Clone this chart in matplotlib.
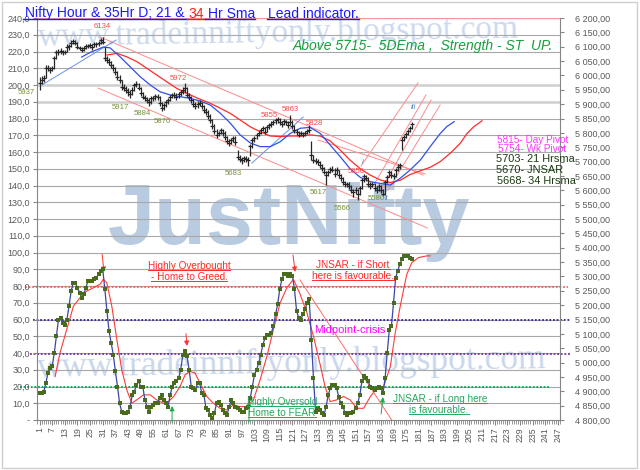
import matplotlib
matplotlib.use('Agg')
import matplotlib.pyplot as plt
from matplotlib.ticker import FuncFormatter, MultipleLocator
from matplotlib.lines import Line2D
from matplotlib.patches import Rectangle

plt.rcParams['font.family'] = ['Liberation Sans', 'DejaVu Sans']

# ---------------- data ----------------
hi = [5995,5998,6000,6035,6036,6030,6034,6068,6090,6092,6094,6090,6089,6108,6110,6122,6128,6124,6115,6104,
      6100,6103,6110,6109,6114,6110,6116,6117,6120,6130,6134,6098,6068,6060,6050,6040,6028,6014,6000,5985,
      5970,5962,5955,5950,5958,5975,5980,5972,5958,5942,5932,5925,5920,5928,5930,5936,5934,5928,5906,5905,
      5914,5920,5932,5940,5942,5938,5944,5950,5958,5972,5958,5940,5930,5918,5906,5910,5914,5908,5898,5888,
      5878,5864,5850,5830,5812,5808,5818,5815,5805,5790,5780,5782,5790,5788,5740,5722,5716,5720,5718,5715,
      5762,5782,5790,5800,5808,5818,5825,5820,5828,5835,5840,5846,5852,5855,5852,5842,5848,5846,5842,5863,
      5845,5828,5815,5808,5808,5804,5808,5814,5828,5770,5722,5712,5710,5702,5692,5680,5668,5672,5682,5684,
      5676,5680,5672,5656,5646,5634,5630,5628,5618,5606,5610,5604,5616,5642,5656,5654,5645,5628,5630,5624,
      5614,5622,5618,5604,5636,5654,5672,5668,5660,5678,5690,5695,5785,5794,5804,5814,5824,5838]
lo = [5950,5970,5978,5992,6015,6010,6015,6024,6058,6072,6074,6072,6073,6080,6090,6100,6108,6105,6092,6088,
      6082,6086,6092,6094,6097,6090,6098,6100,6104,6110,6108,6050,6044,6038,6027,6015,6002,5985,5973,5950,
      5945,5938,5930,5920,5932,5945,5958,5948,5930,5917,5910,5903,5895,5902,5912,5916,5915,5895,5876,5880,
      5890,5900,5910,5920,5922,5915,5920,5928,5935,5940,5925,5915,5905,5890,5884,5888,5892,5884,5870,5862,
      5848,5835,5814,5796,5783,5788,5796,5790,5776,5762,5755,5760,5768,5758,5705,5698,5690,5700,5698,5683,
      5720,5748,5768,5778,5788,5796,5805,5795,5802,5815,5820,5826,5832,5836,5828,5820,5828,5826,5818,5826,
      5815,5800,5792,5785,5788,5784,5790,5795,5800,5705,5695,5692,5688,5678,5668,5655,5617,5650,5660,5662,
      5648,5655,5643,5632,5618,5612,5610,5604,5590,5575,5586,5566,5585,5605,5630,5632,5612,5604,5610,5598,
      5590,5598,5590,5580,5585,5625,5645,5642,5640,5648,5668,5675,5740,5770,5782,5792,5802,5815]
cl = [5975,5985,5990,6026,6025,6019,6026,6061,6082,6082,6085,6082,6082,6099,6102,6113,6120,6113,6099,6096,
      6089,6096,6102,6102,6106,6099,6109,6109,6113,6123,6116,6061,6054,6047,6036,6026,6012,5995,5984,5960,
      5956,5949,5942,5935,5949,5967,5970,5956,5939,5925,5921,5914,5907,5921,5921,5928,5925,5904,5887,5897,
      5907,5914,5925,5932,5932,5925,5935,5942,5949,5956,5932,5925,5914,5900,5894,5900,5904,5894,5880,5873,
      5859,5845,5824,5806,5793,5800,5810,5800,5786,5772,5765,5775,5782,5768,5716,5709,5705,5712,5709,5705,
      5754,5775,5782,5793,5800,5810,5817,5803,5820,5827,5831,5838,5845,5848,5838,5831,5841,5838,5827,5838,
      5824,5810,5803,5793,5800,5793,5800,5806,5810,5723,5705,5702,5698,5688,5678,5664,5653,5664,5674,5671,
      5657,5671,5653,5643,5629,5622,5622,5615,5601,5594,5601,5587,5608,5636,5650,5643,5622,5615,5622,5608,
      5601,5615,5601,5587,5629,5647,5664,5653,5650,5671,5681,5688,5775,5786,5796,5806,5817,5831]
bars = list(range(1, len(cl) + 1))

osc = [16,16,17,22,28,31,32,40,50,60, 61,58,57,60,68,77,82,82,79,76,
       73,75,79,83,83,83,84,85,87,89, 90,78,65,53,46,39,29,20,10,5,
       4,4,5,8,15,17,21,23,20,20, 12,8,5,8,9,10,10,13,15,12,
       10,8,15,20,22,23,25,30,39,41, 38,30,20,19,18,22,22,16,15,7,
       6,3,1,4,10,11,9,6,4,3, 8,12,10,8,7,6,5,5,7,8,
       13,20,27,30,34,39,45,49,51,51, 52,56,63,69,78,84,87,87,86,87,
       86,78,65,61,60,63,66,70,72,48, 25,5,7,6,4,3,8,15,19,21,
       21,19,14,10,8,4,3,4,4,5, 7,10,15,23,26,25,23,20,19,18,
       19,20,19,16,25,40,54,56,70,85, 89,93,96,98,98,98,97,96]
osc_x = list(range(1, len(osc) + 1))

sig_x = [8.4,10.7,13.9,17.1,20.2,23.4,26.6,29.7,31.3,32.9,35.3,37.7,40.0,42.4,44.8,47.1,50.3,53.5,56.6,59.8,
         62.2,64.6,67.7,70.1,72.5,74.8,77.2,80.4,83.5,86.7,89.9,93.0,96.2,99.4,102.5,105.7,108.9,112.0,115.2,118.4,
         121.5,124.7,127.9,131.0,134.2,136.5,138.9,142.0,145.3,148.4,151.6,154.8,158.0,161.1,164.3,167.5,169.8,172.2,173.8,175.3,
         177.7,180.9,184.9,186.4]
sig_y = [26,40,54,68,73,77,79,81,84,82,68,48,30,18,10,12,15,15,12,10,
         11,14,20,27,29,28,22,14,10,7,6,9,8,8,12,24,38,54,70,79,
         84,75,64,50,33,20,11,12,14,12,7,7,14,19,20,32,52,68,78,87,
         94,97,98,98]

sma21_x = [21,25,29.7,31.2,34.5,39.2,44,48.7,53.5,58.2,63,67.7,72.5,77.2,82,86.7,91.5,96.2,101,105.7,
           110.5,115.2,120,124.7,129.4,134.2,138.9,143.7,148.4,153.2,157.9,162.7,167.4,172.2,176.9,181.7,186.4,191.2,194.3,197.8]
sma21_y = [6064,6080,6094,6099,6096,6065,6030,5996,5967,5943,5932,5926,5920,5911,5897,5869,5834,5793,5765,5752,
           5752,5769,5798,5816,5819,5798,5758,5717,5675,5645,5630,5624,5618,5642,5671,5705,5752,5798,5822,5839]
sma34_x = [33,37.7,42.4,47.2,51.9,56.7,61.4,66.1,70.9,75.6,82,86.7,91.5,96.2,101,105.7,110.5,115.2,120,124.7,
           129.4,134.2,138.9,143.7,148.4,153.2,157.9,162.7,167.4,172.2,176.9,181.7,186.4,191.2,195.9,200.7,203.9,207,211]
sma34_y = [6071,6077,6065,6048,6025,6001,5978,5955,5938,5922,5903,5886,5868,5845,5821,5804,5789,5787,5789,5789,
           5793,5789,5772,5740,5705,5675,5653,5636,5627,5635,5655,5668,5680,5700,5729,5764,5798,5821,5842]

# trend lines (bar index, price)
trend_red = [((29.7,6134),(183,5653)), ((28.8,5956),(185,5469)), ((133.2,5775),(184,5657)),
             ((153.6,5685),(180.6,5974)), ((158.8,5608),(184.4,5932)),
             ((162.6,5594),(186.8,5914)), ((166.4,5601),(191.1,5897))]
trend_blue = [((2.2,5967),(37.3,6123)), ((101.8,5695),(126.1,5855))]
osc_trend = [((124.6,83.6),(169.7,-3))]

ref_levels = [79.5, 60, 39.7, 19.8]
ref_colors = ['#ff5a5a', '#3a1c9c', '#7030a0', '#00a651']
ref_span = [(-5.9,251.8), (-2.1,252.8), (-3.5,253.3), (-8.3,243.3)]

price_labels = [('6134',30.6,6169,'#ff4b4b'), ('5937',-5.4,5939,'#77933c'), ('5972',66.7,5991,'#ff4b4b'),
                ('5917',39.2,5887,'#77933c'), ('5884',49.6,5869,'#77933c'), ('5870',59.1,5838,'#77933c'),
                ('5683',92.8,5660,'#77933c'), ('5855',109.9,5862,'#ff4b4b'), ('5863',119.9,5880,'#ff4b4b'),
                ('5828',131.3,5834,'#ff4b4b'), ('5617',133.2,5594,'#77933c'), ('5566',144.6,5535,'#77933c'),
                ('5656',151.2,5667,'#ff4b4b'), ('5580',160.7,5570,'#77933c')]
wave_labels = [('i',154.5,5697), ('ii',165.9,5570), ('iii',178.7,5890)]

red_arrows = [((30.7,99),(31.6,88.4)), ((70.5,51.5),(71,44.2)), ((121.3,98.5),(122.3,88.4))]
green_arrows = [((63.9,-1.2),(63.9,8.4)), ((100.4,-1.2),(100.4,11.3)), ((163.1,3.6),(164,13.7))]

xtick_vals = list(range(1, 248, 6))

# ---------------- figure ----------------
W, H = 640, 470
fig = plt.figure(figsize=(6.4, 4.7), dpi=100)
fig.patch.set_facecolor('white')
PL, PR, PT, PB = 37, 560, 18, 420
ax = fig.add_axes([PL/W, 1-PB/H, (PR-PL)/W, (PB-PT)/H])
ax.patch.set_visible(False)
ax.set_xlim(-0.2, 248.0)
ax.set_ylim(0, 240)
ax2 = ax.twinx()
ax2.set_ylim(4800, 6200)

def fx(x): return x / W
def fy(y): return 1 - y / H

# watermarks
fig.text(fx(108), fy(244), 'JustNifty', family=['Liberation Sans'],
         weight='bold', fontsize=61, color='#b9cbe1', zorder=-2, ha='left', va='baseline')
fig.text(fx(38), fy(46), 'www.tradeinniftyonly.blogspot.com', family=['Liberation Serif'],
         fontsize=24, color='#ccdaed', zorder=-2, ha='left', va='baseline', rotation=1,
         rotation_mode='anchor')
fig.text(fx(37), fy(377), 'www.tradeinniftyonly.blogspot.com', family=['Liberation Serif'],
         fontsize=25.5, color='#c8d7eb', zorder=-2, ha='left', va='baseline', rotation=1,
         rotation_mode='anchor')

# grid
for v in range(10, 240, 10):
    if v in (190, 200):
        ax.axhline(v, color='#cfcfcf', lw=1.8, zorder=0.5)
    else:
        ax.axhline(v, color='#a8a8a8', lw=0.8, zorder=0.5)
ax.axhline(240, color='#f29a9a', lw=1.0, zorder=0.6)

# reference dotted lines
for lev, c, (a, b) in zip(ref_levels, ref_colors, ref_span):
    ax.plot([a, b], [lev, lev], color=c, lw=1.3, ls=(0, (1, 1)), clip_on=False, zorder=1)

# oscillator
ax.plot(sig_x, sig_y, color='#ff3a3a', lw=0.8, zorder=2)
ax.plot(osc_x, osc, color='#3a46a8', lw=0.9, zorder=3)
ax.plot(osc_x, osc, ls='none', marker='s', ms=2.5, mew=0, mfc='#4a6a1c', zorder=3.5)
for (p0, p1) in osc_trend:
    ax.plot([p0[0], p1[0]], [p0[1], p1[1]], color='#ff6b6b', lw=0.7, zorder=2)

for (t, h) in red_arrows:
    ax.annotate('', xy=h, xytext=t, arrowprops=dict(arrowstyle='-|>', color='#ff3030', lw=0.7,
                mutation_scale=7, shrinkA=0, shrinkB=0), annotation_clip=False)
for (t, h) in green_arrows:
    ax.annotate('', xy=h, xytext=t, arrowprops=dict(arrowstyle='-|>', color='#20a850', lw=0.7,
                mutation_scale=7, shrinkA=0, shrinkB=0), annotation_clip=False)

# price
for (p0, p1) in trend_red:
    ax2.plot([p0[0], p1[0]], [p0[1], p1[1]], color='#ff8a8a', lw=0.7, zorder=2)
for (p0, p1) in trend_blue:
    ax2.plot([p0[0], p1[0]], [p0[1], p1[1]], color='#6d8fe6', lw=0.7, zorder=2)
ax2.plot(sma34_x, sma34_y, color='#ff2a2a', lw=0.9, zorder=3)
ax2.plot(sma21_x, sma21_y, color='#3050e8', lw=0.9, zorder=3)
ax2.vlines(bars, lo, hi, color='#262626', lw=0.9, zorder=4)
ax2.plot(bars, cl, ls='none', marker='_', ms=3, mew=0.9, color='#262626', zorder=4)

for (s, xi, p, c) in price_labels:
    ax2.text(xi, p, s, color=c, fontsize=5.6, ha='center', va='center', zorder=5, clip_on=False)
for (s, xi, p) in wave_labels:
    ax2.text(xi, p, s, color='#4f81bd', fontsize=5.6, style='italic', ha='center', va='center', zorder=5)

# axes styling
for sp in ('top', 'right'):
    ax.spines[sp].set_visible(False)
for sp in ('top', 'left', 'bottom'):
    ax2.spines[sp].set_visible(False)
for s in (ax.spines['left'], ax.spines['bottom'], ax2.spines['right']):
    s.set_color('#868686'); s.set_linewidth(0.8)

ax.set_yticks(range(0, 241, 10))
ax.yaxis.set_major_formatter(FuncFormatter(lambda v, _: '-' if v == 0 else f'{v:.1f}'.replace('.', ',')))
ax.tick_params(axis='y', labelsize=6.5, labelcolor='#595959', color='#868686', length=3, pad=2)
ax2.set_yticks(range(4800, 6201, 50))
ax2.yaxis.set_major_formatter(FuncFormatter(lambda v, _: f'{v:,.2f}'.replace(',', ' ').replace('.', ',')))
ax2.tick_params(axis='y', labelsize=6.5, labelcolor='#595959', color='#868686', length=3, pad=8)
ax.set_xticks(xtick_vals)
ax.set_xticklabels([str(v) for v in xtick_vals], rotation=90)
ax.xaxis.set_minor_locator(MultipleLocator(1))
ax.tick_params(axis='x', which='major', labelsize=6.3, labelcolor='#595959', color='#868686', length=3.5, pad=1.5)
ax.tick_params(axis='x', which='minor', color='#868686', length=3)

# texts
def ftext(x, y, s, **kw):
    return fig.text(fx(x), fy(y), s, **kw)

t1 = ftext(25, 17.5, 'Nifty Hour & 35Hr D; 21 &', color='#1a1aff', fontsize=10, va='baseline')
t_lead = ftext(268, 17.5, 'Lead indicator.', color='#1a1aff', fontsize=10, va='baseline')
ftext(553, 50, 'Above 5715-  5DEma ,  Strength - ST  UP.', color='#15a03c', fontsize=10,
      style='italic', ha='right', va='baseline')

ftext(497, 140, '5815- Day Pivot', color='#ff33ff', fontsize=7.2, va='center')
ftext(498, 149, '5754- Wk Pivot', color='#ff33ff', fontsize=7.2, va='center')
ftext(496, 159.5, '5703- 21 Hrsma', color='#1d3a12', fontsize=7.9, va='center')
ftext(496, 170, '5670- JNSAR', color='#1d3a12', fontsize=7.9, va='center')
ftext(497, 181, '5668- 34 Hrsma', color='#1d3a12', fontsize=7.9, va='center')

ul = []
ul.append((ftext(189, 266, 'Highly Overbought', color='#ff2a2a', fontsize=7.2, ha='center', va='center'), '#ff2a2a'))
ul.append((ftext(189, 277, '- Home to Greed.', color='#ff2a2a', fontsize=7.2, ha='center', va='center'), '#ff2a2a'))
ul.append((ftext(353, 265, 'JNSAR - if Short', color='#ff2a2a', fontsize=7.2, ha='center', va='center'), '#ff2a2a'))
ul.append((ftext(353, 276, 'here is favourable.', color='#ff2a2a', fontsize=7.2, ha='center', va='center'), '#ff2a2a'))
ftext(350, 330, 'Midpoint-crisis', color='#ff00ff', fontsize=8, ha='center', va='center')
ul.append((ftext(282, 402, 'Highly Oversold', color='#22a85a', fontsize=7.2, ha='center', va='center'), '#22a85a'))
ul.append((ftext(282, 413, 'Home to FEAR', color='#22a85a', fontsize=7.2, ha='center', va='center'), '#22a85a'))
ul.append((ftext(440, 399, 'JNSAR - if Long here', color='#22a85a', fontsize=7.2, ha='center', va='center'), '#22a85a'))
ul.append((ftext(439, 410, 'is favourable.', color='#22a85a', fontsize=7.2, ha='center', va='center'), '#22a85a'))

fig.canvas.draw()
r = fig.canvas.get_renderer()
sp_w = 3.9
bb1 = t1.get_window_extent(r)
t2 = fig.text((bb1.x1 + sp_w) / W, fy(17.5), '34', color='#ff1a1a', fontsize=10, va='baseline')
fig.canvas.draw()
bb2 = t2.get_window_extent(r)
t3 = fig.text((bb2.x1 + sp_w) / W, fy(17.5), 'Hr Sma', color='#1a1aff', fontsize=10, va='baseline')
fig.canvas.draw()
bb3 = t3.get_window_extent(r)

def hline_px(x0, x1, ydisp, color, lw=0.9):
    fig.add_artist(Line2D([x0 / W, x1 / W], [ydisp / H, ydisp / H], transform=fig.transFigure,
                          color=color, lw=lw))

base = (1 - 17.5 / H) * H - 1.5
hline_px(bb1.x0 - 2, bb2.x0 - 1, base, '#1a1aff', 1.0)
hline_px(bb2.x0 - 1, bb2.x1 + 1, base, '#ff1a1a', 1.0)
hline_px(bb2.x1 + 1, bb3.x1, base, '#1a1aff', 1.0)
bbl = t_lead.get_window_extent(r)
hline_px(bbl.x0 - 1, bbl.x1, base, '#1a1aff', 1.0)
for t, c in ul:
    bb = t.get_window_extent(r)
    hline_px(bb.x0, bb.x1, bb.y0 + 0.8, c, 0.7)

fig.add_artist(Rectangle((2 / W, 2 / H), 635 / W, 466 / H, transform=fig.transFigure,
                         fill=False, ec='#cfcfcf', lw=1))

fig.savefig('out.png', dpi=100)
